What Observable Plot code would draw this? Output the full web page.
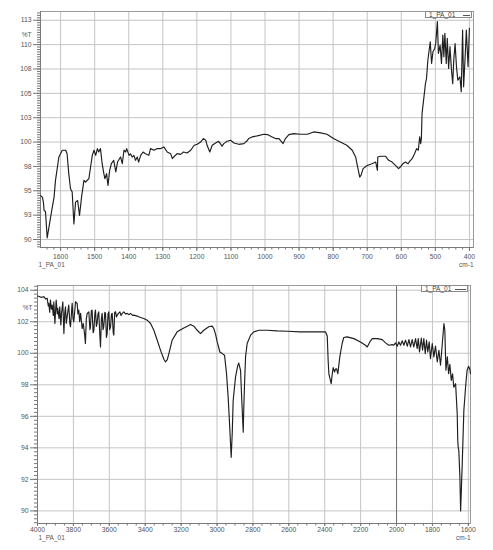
<!DOCTYPE html>
<html><head><meta charset="utf-8">
<script src="https://cdn.jsdelivr.net/npm/d3@7"></script>
<script src="https://cdn.jsdelivr.net/npm/@observablehq/plot@0.6"></script>
<style>
body{margin:0;background:#fff;}
#wrap{position:relative;width:493px;height:550px;font-family:"Liberation Sans",Arial,sans-serif;background:#fff;}
#wrap svg{display:block;}
.leg{position:absolute;border:1px solid #8a8a8a;background:#fff;box-sizing:border-box;font-size:6.5px;color:#444;line-height:5px;white-space:nowrap;}
.leg span{position:absolute;left:3px;top:0px;}
.leg i{position:absolute;height:0;border-top:1px solid #555;}
</style></head><body><div id="wrap"></div>
<script>
// ---------- top panel (1660 – 390 cm-1) ----------
const topWn = [1659,1653.5,1650.5,1648.5,1644.4,1639.4,1629.3,1619.2,1615,1605,1595,1585,1581,1576,1571,1566,1561,1556,1550,1544.5,1538.5,1531.5,1526.5,1517,1512,1507,1502,1497,1492,1488,1483,1478,1473,1470,1465,1461,1456,1451,1444,1438,1433,1424,1419,1414,1409,1406,1399,1395,1390,1385,1380,1375,1371,1365,1358,1351,1341,1336,1326,1316,1306,1297,1287,1277,1272,1268,1258,1248,1239,1229,1218,1208,1199,1189,1181,1174,1170,1162,1155,1145,1136,1131,1126,1121,1111,1101,1091,1077,1062,1054,1048,1038,1023,1003,993,979,969,959,947,940,930,916,895,876,857,837,818,799,779,760,744,734,728,722,718,712,700,686,675,670,669,661,646,637,627,617,608,603,595,588,580,575,568,561,555,550,546,543,541,539,529,526,522,515,511,507,502,499,494,491,486,482,478,475,472,468,465,461,457,453,449,446,442,438,434,428,424,420,417,413,409,404,400];
const topT = [94.5,94.35,93.84,92.98,92.88,90.17,92.3,94.35,96.07,98.47,99.16,99.16,98.8,96.76,95.21,94.87,91.6,93.84,94.0,92.47,94.35,96.07,95.9,96.24,97.44,98.64,99.16,98.64,99.33,98.98,99.33,97.78,96.76,96.24,96.76,95.56,97.1,97.78,98.13,96.93,97.95,98.47,97.78,99.16,98.98,99.33,98.64,98.8,98.47,98.64,98.13,98.47,97.95,98.64,98.98,98.8,98.64,99.33,99.16,99.33,99.33,99.5,98.98,98.81,98.3,98.47,98.81,98.74,98.98,98.88,99.16,99.67,99.77,100.0,100.36,100.19,99.67,98.98,99.67,99.91,100.08,99.84,99.57,99.84,100.08,100.19,99.91,99.77,99.84,100.08,100.36,100.53,100.63,100.8,100.77,100.53,100.36,100.36,99.84,100.36,100.77,100.87,100.8,100.8,101.04,100.94,100.8,100.36,100.0,99.67,99.16,98.47,97.44,96.41,96.6,97.27,97.6,97.78,97.95,97.1,98.47,98.54,98.54,98.13,97.95,97.6,97.27,97.44,97.78,97.95,97.78,98.05,98.3,98.8,99.33,99.16,100.53,99.84,100.36,102.93,106.0,106.5,108.4,110.3,108.07,109.27,109.6,110.1,112.36,109.1,109.96,108.07,110.99,108.76,111.16,108.07,110.65,107.56,109.79,107.56,106.0,108.4,110.1,107.73,106.36,106.7,105.16,111.5,105.67,108.4,111.5,107.73,111.68];
const topXTicks = [1600,1500,1400,1300,1200,1100,1000,900,800,700,600,500,400];
const topYTicks = [90,92.5,95,97.5,100,102.5,105,107.5,110,112.5];
const topYLabels = ["90","93","95","98","100","103","105","108","110","113"];

// ---------- bottom panel (4000 – 1590 cm-1) ----------
const botWn = [3998,3980,3965,3955,3946,3940,3937,3932,3928,3922,3918,3912,3909,3903,3896,3890,3887,3880,3876,3870,3866,3859,3853,3848,3844,3840,3835,3826,3820,3816,3807,3802,3798,3788,3779,3775,3770,3765,3760,3751,3745,3738,3733,3728,3723,3714,3708,3705,3700,3696,3690,3686,3680,3677,3672,3668,3663,3659,3652,3649,3644,3640,3635,3631,3625,3621,3616,3612,3607,3603,3598,3593,3588,3584,3578,3575,3570,3565,3560,3556,3548,3541,3535,3528,3519,3510,3500,3490,3482,3470,3463,3445,3426,3408,3389,3370,3352,3333,3315,3296,3287,3277,3268,3250,3222,3185,3160,3148,3129,3110,3092,3074,3046,3027,3018,3008,2999,2984,2971,2958,2947,2938,2930,2921,2915,2910,2897,2885,2879,2869,2862,2854,2851,2846,2841,2832,2813,2795,2767,2720,2665,2609,2535,2460,2396,2386,2381,2377,2364,2358,2353,2345,2340,2334,2327,2316,2303,2294,2275,2238,2201,2173,2163,2149,2135,2107,2080,2061,2043,2024,2015,2006,1996,1987,1978,1968,1959,1950,1940,1931,1922,1913,1904,1894,1885,1879,1872,1862,1855,1848,1840,1833,1826,1818,1811,1801,1792,1783,1773,1764,1755,1745,1736,1731,1725,1717,1710,1703,1695,1688,1681,1671,1662,1659,1656,1653,1647,1643,1634,1625,1614,1607,1599,1592,1588];
const botT = [103.63,103.55,103.59,103.45,103.48,103.0,103.17,102.6,103.38,102.8,103.06,102.4,103.27,101.89,103.38,102.5,102.85,102.2,102.95,101.8,102.53,103.27,101.25,102.6,102.95,101.9,102.31,103.06,101.9,101.68,103.17,102.2,101.99,103.27,103.17,102.5,102.74,102.0,102.53,101.57,101.89,101.25,100.62,102.2,102.53,102.63,101.5,101.68,102.7,102.74,101.3,101.46,102.6,102.74,101.7,101.89,102.5,102.63,101.0,100.4,102.2,102.53,101.5,101.68,102.6,102.53,101.0,101.25,102.5,102.63,101.5,101.68,102.5,102.53,101.3,101.15,102.6,102.63,102.3,102.42,102.55,102.63,102.4,102.53,102.63,102.5,102.53,102.45,102.53,102.4,102.42,102.36,102.27,102.21,102.1,101.89,101.46,100.83,100.2,99.62,99.45,99.6,99.98,100.83,101.36,101.61,101.75,101.82,101.72,101.46,101.25,101.46,101.68,101.72,101.57,101.2,100.72,100.08,99.98,99.87,98.7,97.22,95.5,93.4,95.0,97.0,98.49,99.2,99.38,98.92,97.0,94.99,96.5,98.28,99.77,100.62,101.15,101.36,101.46,101.46,101.42,101.4,101.36,101.36,101.36,101.1,99.55,98.7,98.07,98.7,99.09,98.81,99.0,99.02,98.7,99.77,100.62,101.0,101.04,100.93,100.72,100.51,100.4,100.72,100.93,100.93,100.87,100.66,100.51,100.55,100.51,100.66,100.45,100.72,100.51,100.79,100.51,100.83,100.45,100.87,100.4,100.87,100.4,100.93,100.3,100.93,100.08,100.96,100.19,100.93,99.98,100.83,100.08,100.72,99.66,100.62,99.77,100.45,99.45,100.19,99.24,100.62,101.89,101.46,98.92,99.77,98.7,99.3,98.28,98.7,97.85,98.07,96.16,94.46,94.0,93.82,92.12,90.0,93.0,96.37,98.07,98.92,99.17,99.0,98.7];
const botXTicks = [4000,3800,3600,3400,3200,3000,2800,2600,2400,2200,2000,1800,1600];
const botYTicks = [90,92,94,96,98,100,102,104];
const botYLabels = ["90","92","94","96","98","100","102","104"];

const seriesName = "1_PA_01";
const unitLabel = "cm-1";
const yName = "%T";

function range(a, b, s) { const out = []; for (let v = a; v <= b + 1e-9; v += s) out.push(+v.toFixed(3)); return out; }

function panel(o) {
  const data = o.wn.map((w, i) => ({wn: w, t: o.t[i]}));
  return Plot.plot({
    width: 493, height: 275,
    marginTop: o.mt, marginBottom: o.mb, marginLeft: o.ml, marginRight: o.mr,
    x: {domain: o.xDomain, axis: null},
    y: {domain: o.yDomain, axis: null},
    style: {fontFamily: "'Liberation Sans', Arial, sans-serif", fontSize: "7px", color: "#555", background: "#fff", overflow: "visible"},
    marks: [
      Plot.gridX(o.xTicks, {stroke: "#c4c4c4", strokeOpacity: 1}),
      Plot.gridY(o.yTicks, {stroke: "#c4c4c4", strokeOpacity: 1}),
      ...(o.darkRule ? [Plot.ruleX([o.darkRule], {stroke: "#707070", strokeWidth: 1})] : []),
      Plot.frame({stroke: "#9a9a9a"}),
      Plot.ruleX([o.xDomain[0]], {stroke: "#7a7a7a"}),
      Plot.ruleY([o.yDomain[0]], {stroke: "#7a7a7a"}),
      Plot.axisX(o.xMinor, {anchor: "bottom", tickSize: 2.5, text: null, label: null, stroke: "#777"}),
      Plot.axisX(o.xTicks, {anchor: "bottom", tickSize: o.xTickSize, tickPadding: o.xPad, label: null, stroke: "#777", fill: "#555", fontSize: 6.8, tickFormat: d => String(d)}),
      Plot.axisY(o.yMinor, {anchor: "left", tickSize: 3, text: null, label: null, stroke: "#777"}),
      Plot.axisY(o.yTicks, {anchor: "left", tickSize: 7, tickPadding: 2, label: null, stroke: "#777", fill: "#555", fontSize: 6.8, tickFormat: d => o.yLabels[o.yTicks.indexOf(d)]}),
      Plot.text([yName], {frameAnchor: "top-left", dx: o.pctDx, dy: o.pctDy, textAnchor: "end", fill: "#555", fontSize: 6.5}),
      Plot.text([seriesName], {frameAnchor: "bottom-left", dx: o.nameDx, dy: o.nameDy, textAnchor: "start", fill: "#555", fontSize: 6.5}),
      Plot.text([unitLabel], {frameAnchor: "bottom-right", dx: 0, dy: o.unitDy, textAnchor: "end", fill: "#555", fontSize: 6.5}),
      Plot.line(data, {x: "wn", y: "t", stroke: "#1e1e1e", strokeWidth: 1.15})
    ]
  });
}

const wrap = document.getElementById("wrap");
wrap.append(panel({
  wn: topWn, t: topT, xDomain: [1659, 388], yDomain: [89.18, 113.4],
  xTicks: topXTicks, xMinor: range(400, 1640, 20), yTicks: topYTicks, yMinor: range(89.25, 113.25, 0.25), yLabels: topYLabels,
  mt: 11, mb: 28, ml: 40, mr: 20, xTickSize: 4, xPad: 2.5,
  pctDx: -9, pctDy: 21, nameDx: -2, nameDy: 19.5, unitDy: 19
}));
wrap.append(panel({
  wn: botWn, t: botT, xDomain: [4000, 1588], yDomain: [89.2, 104.3],
  xTicks: botXTicks, xMinor: range(1600, 4000, 50), yTicks: botYTicks, yMinor: range(89.25, 104.25, 0.25), yLabels: botYLabels,
  mt: 10, mb: 27, ml: 37, mr: 23, xTickSize: 3, xPad: 0.5, darkRule: 2000,
  pctDx: -5, pctDy: 20, nameDx: 1, nameDy: 16.5, unitDy: 16.5
}));

function legend(left, top, w, h, lineL, lineW) {
  const d = document.createElement("div");
  d.className = "leg";
  Object.assign(d.style, {left: left + "px", top: top + "px", width: w + "px", height: h + "px"});
  const s = document.createElement("span"); s.textContent = seriesName; d.append(s);
  const l = document.createElement("i");
  Object.assign(l.style, {left: lineL + "px", width: lineW + "px", top: (h / 2 - 1) + "px"});
  d.append(l);
  wrap.append(d);
}
legend(425, 11, 47, 7, 37, 7);
legend(421, 285, 47, 7, 33, 11);
</script></body></html>
